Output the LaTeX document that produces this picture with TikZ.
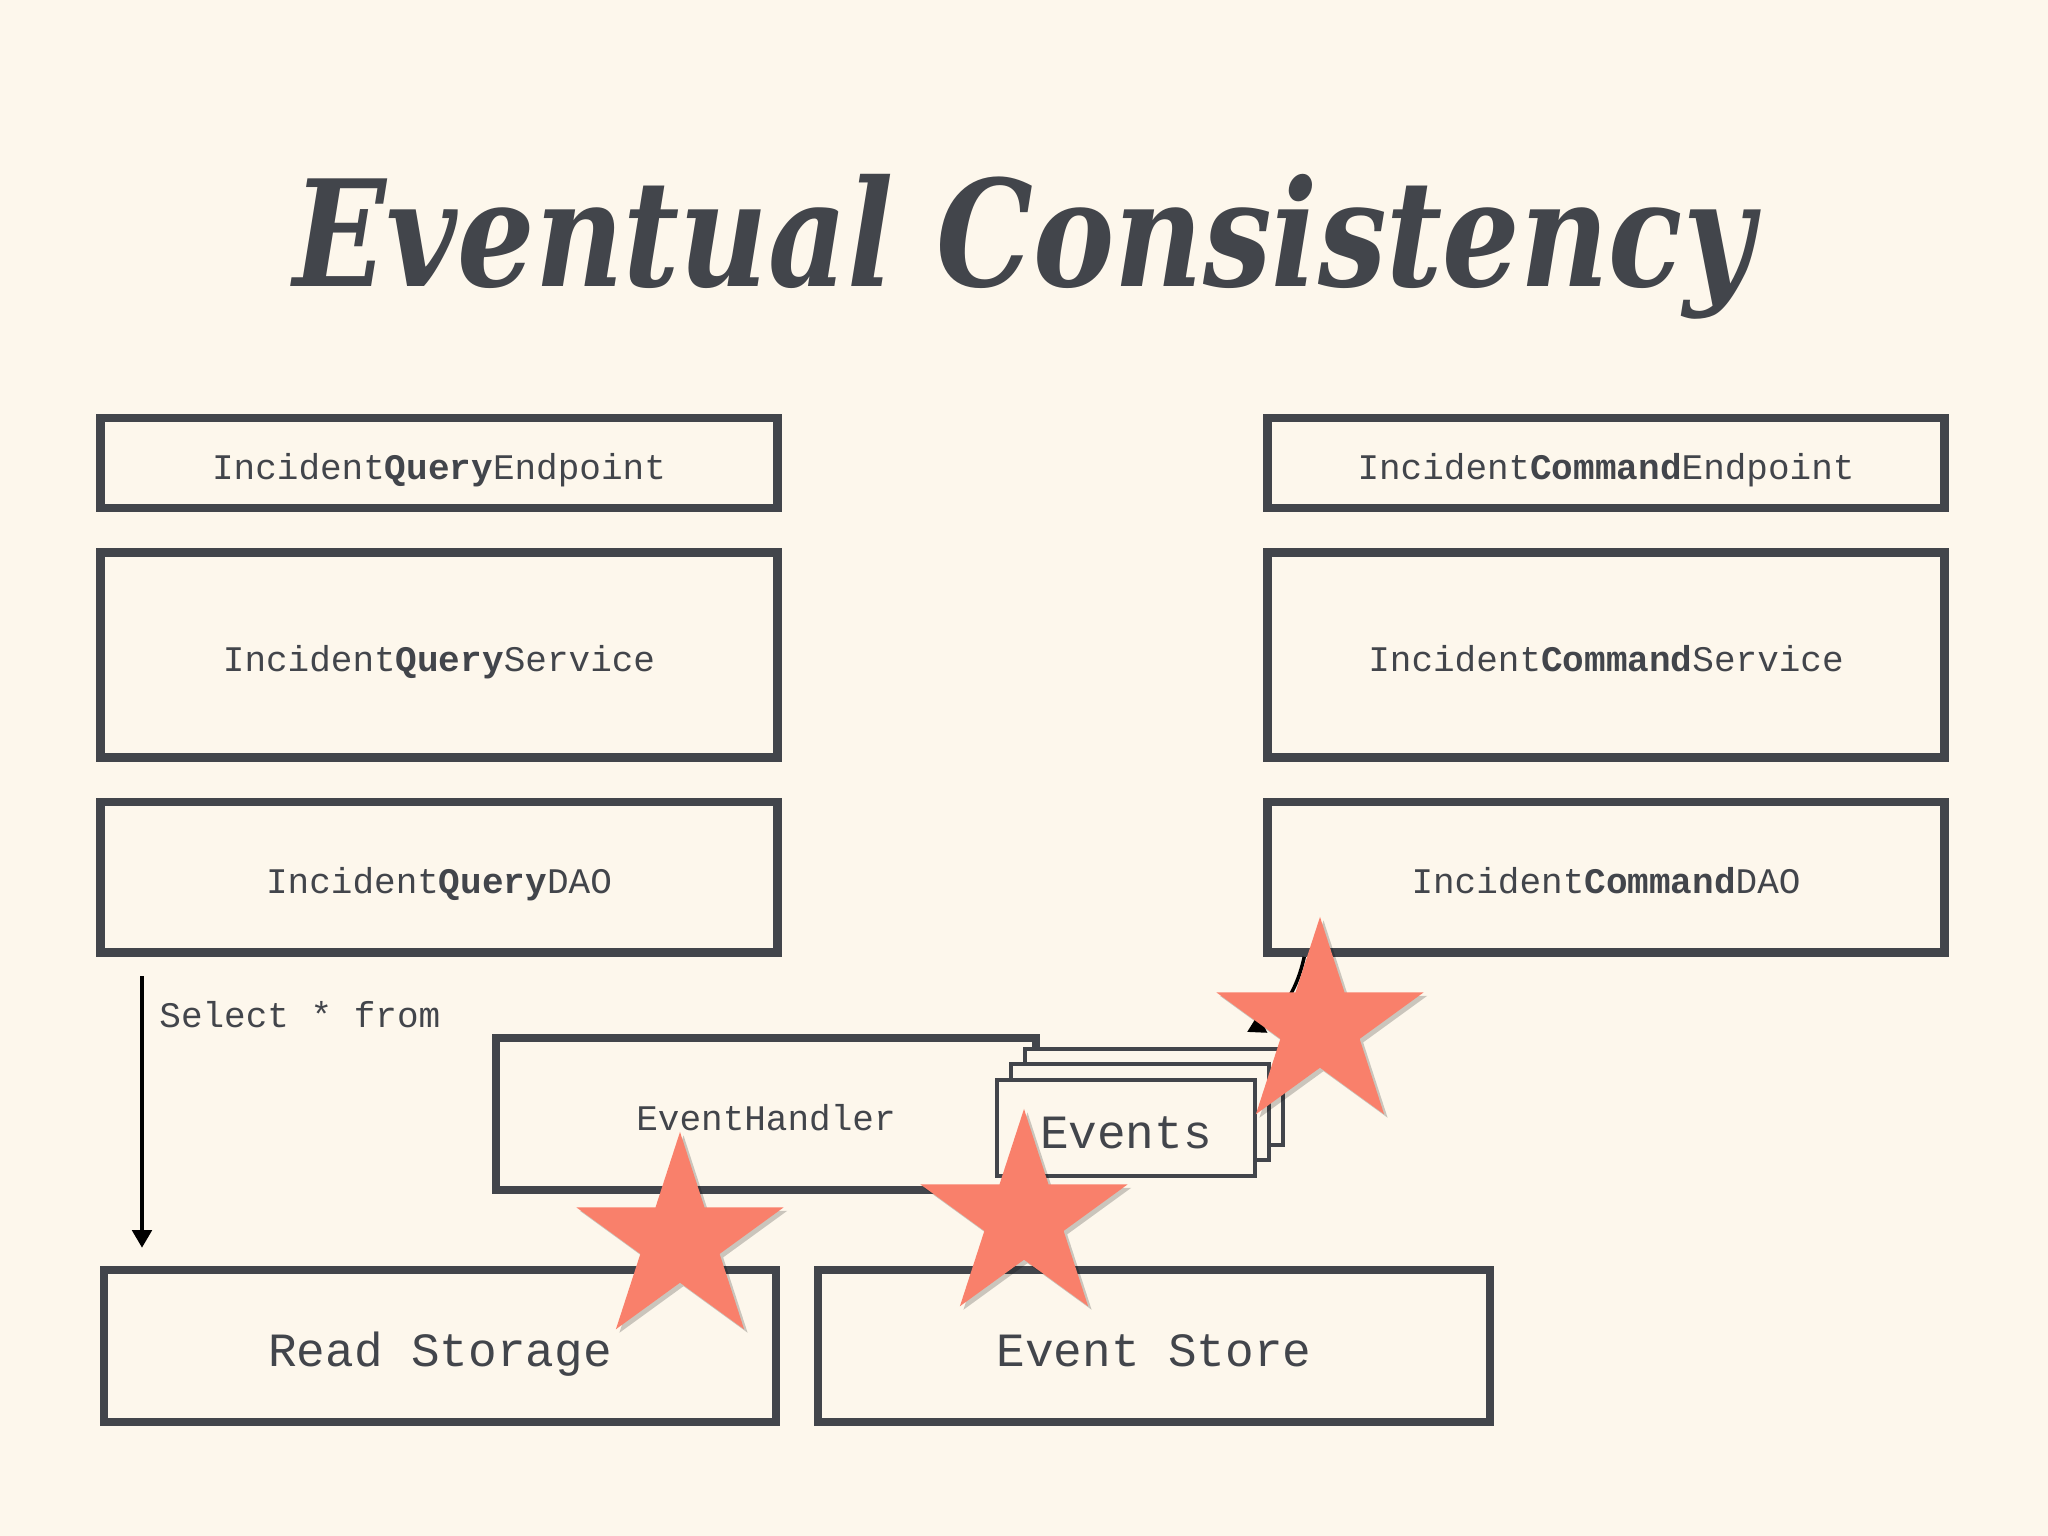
\documentclass[tikz,border=0pt]{standalone}
\usepackage{fontspec}
\usepackage{tikz}
\usetikzlibrary{arrows.meta,positioning,shapes.geometric,shadows,calc}
\setmonofont{Liberation Mono}
\newfontfamily\titlefont[FakeStretch=0.825]{DejaVu Serif}
\definecolor{fondo}{HTML}{FDF7EC}
\definecolor{tinta}{HTML}{42454B}
\definecolor{salmon}{HTML}{F9806B}

\begin{document}
\begin{tikzpicture}[x=0.01cm, y=-0.01cm, >={Triangle[length=5pt,width=5.5pt]}, node distance=0.36cm, thick, inner sep=0pt]
	\tikzset{capa/.style={draw=tinta, line width=2.4pt, fill=fondo, minimum width=6.77cm, text=tinta, text height=9.2pt, text depth=0pt, font=\fontsize{10.24}{12}\selectfont\ttfamily}}
	\tikzstyle{grande}=[font=\fontsize{13.57}{16}\selectfont\ttfamily, text height=11.7pt, text depth=0pt]
	\tikzstyle{evento}=[draw=tinta, line width=1.15pt, fill=fondo, minimum width=2.58cm, minimum height=0.96cm]
	\tikzstyle{estrella}=[star, star points=5, star point ratio=2.618, minimum size=2.18cm, fill=salmon, drop shadow={shadow xshift=1pt, shadow yshift=-1pt, opacity=0.2, fill=black}]

	\fill[fondo] (0,0) rectangle (2048,1536);
	\useasboundingbox (0,0) rectangle (2048,1536);

	%TITULO
	\node[text=tinta, font={\titlefont\bfseries\itshape\fontsize{42}{50}\selectfont}, anchor=base] (titulo) at (1024,286) {Eventual Consistency};

	%LADO QUERY
	\node[capa, minimum height=0.90cm]		(qend) at (439,463)	{Incident\textbf{Query}Endpoint};
	\node[capa, minimum height=2.05cm]		(qsvc) [below=of qend]	{Incident\textbf{Query}Service};
	\node[capa, minimum height=1.505cm]		(qdao) [below=of qsvc]	{Incident\textbf{Query}DAO};

	%LADO COMMAND
	\node[capa, minimum height=0.90cm]		(cend) at (1606,463)	{Incident\textbf{Command}Endpoint};
	\node[capa, minimum height=2.05cm]		(csvc) [below=of cend]	{Incident\textbf{Command}Service};
	\node[capa, minimum height=1.505cm]		(cdao) [below=of csvc]	{Incident\textbf{Command}DAO};

	%ALMACENES
	\node[capa, grande, minimum width=6.72cm, minimum height=1.52cm]	(lectura) at (440,1346)		{Read Storage};
	\node[capa, grande, minimum width=6.72cm, minimum height=1.52cm]	(almacen) at (1154,1346)	{Event Store};

	%MANEJADOR Y EVENTOS
	\node[capa, minimum width=5.40cm, minimum height=1.52cm]	(manejador) at (766,1114)	{EventHandler};
	\node[evento]				(evatras) at (1154,1097)	{};
	\node[evento]				(evmedio) at (1140,1112)	{};
	\node[evento, grande, text=tinta]	(eventos) at (1126,1128)	{Events};

	%FLECHAS
	\coordinate (selini) at (142,976);
	\node[anchor=base west, text=tinta, font=\fontsize{10.24}{12}\selectfont\ttfamily] (consulta) at (158,1027) {Select * from};
	\draw[->, line width=1.1pt, shorten >=0.18cm] (selini) -- (selini |- lectura.north);
	\draw[->, line width=1pt] ($(cdao.south west)!0.06!(cdao.south east)$) to [bend left=25] ($(evatras.north east)+(-38,-15)$);

	%ESTRELLAS
	\node[estrella] (est1) at (680,1241) {};
	\node[estrella] (est2) at (1024,1218) {};
	\node[estrella] (est3) at (1320,1026) {};
\end{tikzpicture}
\end{document}
